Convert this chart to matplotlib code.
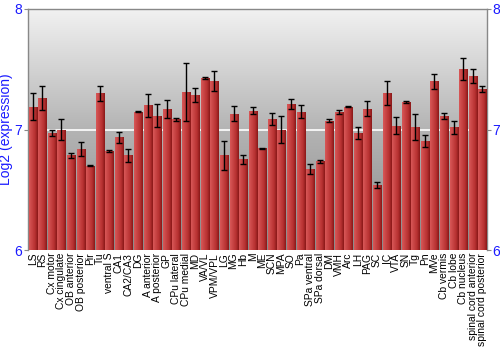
import matplotlib
matplotlib.use("Agg")
import matplotlib.pyplot as plt
import numpy as np
from matplotlib.colors import LinearSegmentedColormap

# Region names along the x axis
regions = ["LS", "RS", "Cx motor", "Cx cingulate", "OB anterior", "OB posterior", "Pir", "Tu",
           "ventral S", "CA1", "CA2/CA3", "DG", "A anterior", "A posterior", "GP", "CPu lateral",
           "CPu medial", "MD", "VA/VL", "VPM/VPL", "LG", "MG", "Hb", "M", "ME", "SCN", "MPA", "SO",
           "Pa", "SPa ventral", "SPa dorsal", "DM", "VMH", "Arc", "LH", "PAG", "SC", "IC", "VTA",
           "SN", "Tg", "Pn", "MVe", "Cb vermis", "Cb lobe", "Cb nucleus",
           "spinal cord anterior", "spinal cord posterior"]

# Mean log2 expression per region
expression = [7.19, 7.26, 6.967, 7.00, 6.785, 6.835, 6.70, 7.30,
              6.82, 6.934, 6.785, 7.149, 7.20, 7.116, 7.171, 7.083,
              7.31, 7.29, 7.424, 7.40, 6.785, 7.132, 6.752, 7.157, 6.843, 7.088, 7.00, 7.212,
              7.149, 6.675, 6.736, 7.074, 7.143, 7.187, 6.972, 7.171, 6.54, 7.30, 7.033,
              7.231, 7.022, 6.904, 7.40, 7.113, 7.019, 7.50,
              7.446, 7.336]

# Error (half-length of the error bar)
errors = [0.11, 0.10, 0.025, 0.085, 0.023, 0.058, 0.005, 0.063,
          0.01, 0.047, 0.056, 0.005, 0.094, 0.095, 0.076, 0.015,
          0.24, 0.058, 0.008, 0.084, 0.122, 0.063, 0.036, 0.029, 0.005, 0.052, 0.116, 0.043,
          0.052, 0.041, 0.01, 0.01, 0.018, 0.004, 0.048, 0.062, 0.022, 0.10, 0.067,
          0.008, 0.11, 0.05, 0.062, 0.025, 0.054, 0.09,
          0.058, 0.028]

y_ticks = [6, 7, 8]
blue = "#1a1aff"
font = "Liberation Sans"

fig = plt.figure(figsize=(5, 3.5), dpi=100)
ax = fig.add_axes([0.056, 0.2857, 0.918, 0.6886])

x = np.arange(len(regions))
ax.set_xlim(-0.5, len(regions) - 0.5)
ax.set_ylim(6, 8)

# grey gradient background, dark at the bottom, light at the top
bg = np.linspace(0, 1, 256).reshape(-1, 1)
bg_cmap = LinearSegmentedColormap.from_list("bg", ["#8a8a8a", "#b4b4b4", "#f2f2f2"])
ax.imshow(bg, cmap=bg_cmap, aspect="auto", extent=[-0.5, len(regions) - 0.5, 6, 8],
          zorder=0, origin="lower")

ax.axhline(7, color="white", lw=1.2, zorder=1)

bars = ax.bar(x, [v - 6 for v in expression], bottom=6, width=0.84,
              color="#c03838", edgecolor="#d87070", linewidth=0.5, zorder=2)

# horizontal shading on each bar (light left, dark right)
bar_cmap = LinearSegmentedColormap.from_list("bar", ["#d85858", "#c84444", "#b83232", "#8a1818"])
shade = np.linspace(0, 1, 64).reshape(1, -1)
for b in bars:
    x0, w = b.get_x(), b.get_width()
    y0, h = b.get_y(), b.get_height()
    im = ax.imshow(shade, cmap=bar_cmap, aspect="auto",
                   extent=[x0, x0 + w, y0, y0 + h], zorder=3)
    im.set_clip_path(b)

ax.errorbar(x, expression, yerr=errors, fmt="none", ecolor="black", elinewidth=1.0,
            capsize=2.5, capthick=1.0, zorder=4)

ax.set_xticks(x)
ax.set_xticklabels(regions, rotation=90, fontsize=7.4, family=font)
ax.tick_params(axis="x", length=0, pad=2)

ax.set_yticks(y_ticks)
ax.tick_params(axis="y", labelsize=10, colors="#888888", labelcolor=blue, length=3, pad=1,
               direction="out", left=True, right=True, labelleft=True, labelright=True)
for lab in ax.get_yticklabels():
    lab.set_family(font)

ax.set_ylabel("Log2 (expression)", color=blue, fontsize=10, family=font, labelpad=1)

for s in ax.spines.values():
    s.set_color("#888888")
    s.set_linewidth(1.0)
ax.spines["bottom"].set_visible(False)

fig.savefig("out.png", dpi=100)
